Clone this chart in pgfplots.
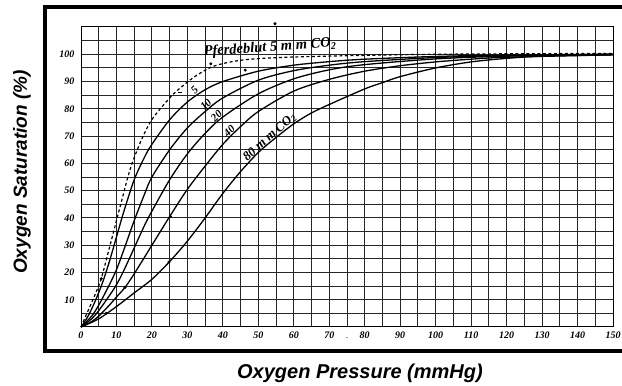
\documentclass[border=0pt]{standalone}
\usepackage{fontspec}
\setmainfont{Liberation Sans}
\newfontfamily\tickf{Liberation Serif}
\usepackage{pgfplots}
\pgfplotsset{compat=1.18}
\begin{document}
\begin{tikzpicture}[x=1pt,y=1pt]
\begin{axis}[
  at={(81pt,59pt)}, anchor=south west,
  scale only axis, width=532pt, height=300pt,
  xmin=0, xmax=150, ymin=0, ymax=110,
  xtick={0,10,...,150}, ytick={10,20,...,100},
  minor xtick={5,15,...,145}, minor ytick={5,15,...,105},
  grid=both,
  major grid style={black!85, line width=0.9pt},
  minor grid style={black!85, line width=0.9pt},
  axis line style={black, line width=1pt},
  major tick length=0pt, minor tick length=0pt,
  /pgf/number format/assume math mode=true,
  ticklabel style={font=\tickf\bfseries\itshape\fontsize{10}{11}\selectfont},
  yticklabel style={xshift=-3pt},
  xticklabel style={yshift=-1.5pt},
  clip=false,
]
% Pferdeblut 5 mm CO2 (dashed)
\addplot[black, line width=1.2pt, dash pattern=on 3pt off 2.5pt, smooth, tension=0.5] coordinates {
(0,0) (2,6) (4,12) (5.7,17.7) (8,29) (10,39) (12,49) (13,54) (14.4,60) (17,68.5)
(19.7,75.5) (23,81) (26.2,85.6) (30,89.8) (33,92.6) (36.6,95.2) (40,96.6) (45,97.8)
(50,98.4) (60,99) (80,99.6) (100,100) (125,100.2) (150,100.3)};
% 5 mm
\addplot[black, line width=1.3pt, smooth, tension=0.5] coordinates {
(0,0) (2,4) (4,9.5) (6,16) (8,24) (10,33) (12,42) (15,54) (18,62.5) (20,67)
(25,76) (30,82.5) (35,87) (40,90) (50,93.8) (60,96) (70,97.3) (80,98.2) (100,99.2)
(120,99.7) (150,100)};
% 10 mm
\addplot[black, line width=1.3pt, smooth, tension=0.5] coordinates {
(0,0) (3,4) (5,8) (8,15.5) (10,21) (12,28) (15,39) (18,49) (20,55) (25,65) (30,73)
(35,79) (40,84) (50,90.5) (60,94) (70,96) (80,97.3) (100,98.8) (120,99.5) (150,100)};
% 20 mm
\addplot[black, line width=1.3pt, smooth, tension=0.5] coordinates {
(0,0) (3,3) (5,6) (8,11.5) (10,15.5) (12,20.5) (15,29) (18,37.5) (20,42.5) (25,54)
(30,63.5) (35,71) (40,77) (50,85.5) (60,91) (70,94.3) (80,96.2) (100,98.3)
(120,99.3) (150,99.9)};
% 40 mm
\addplot[black, line width=1.3pt, smooth, tension=0.5] coordinates {
(0,0) (3,2) (5,4) (8,8) (10,11) (12.4,14.5) (15,19.5) (20,30) (25,40.5) (30,50.5)
(35,59) (40,67) (45,73.5) (50,79) (60,86.5) (70,90.8) (80,93.8) (90,95.8) (100,97.2)
(110,98.2) (120,98.9) (150,99.8)};
% 80 mm
\addplot[black, line width=1.3pt, smooth, tension=0.5] coordinates {
(0,0) (5,3) (10,7.5) (15,12.5) (20,17.5) (25,24) (30,31.5) (35,40) (40,49) (45,57)
(50,64) (55,69.5) (60,74.5) (65,78.5) (70.7,82) (80,87.3) (85,89.6) (90,91.8) (100,95)
(110,97.2) (120,98.5) (130,99.3) (150,99.8)};
% measured points
\addplot[only marks, mark=*, mark size=1.3pt, black] coordinates {
(5.7,17.7) (36.6,96.5) (46.3,94.2) (25.2,40.5) (12.4,14.5) (24.8,23.8) (7.1,5) (54.7,111.2)};
\addplot[only marks, mark=-, mark size=2pt, black, line width=1pt] coordinates {(28,86) (14.2,60)};
% curve labels
\node[inner sep=0pt, font=\tickf\bfseries\itshape\fontsize{11}{11}\selectfont, rotate=45] at (axis cs:32.0,87.0) {5};
\node[inner sep=0pt, font=\tickf\bfseries\itshape\fontsize{11}{11}\selectfont, rotate=45] at (axis cs:35.2,81.6) {10};
\node[inner sep=0pt, font=\tickf\bfseries\itshape\fontsize{11}{11}\selectfont, rotate=45] at (axis cs:38.2,77.4) {20};
\node[inner sep=0pt, font=\tickf\bfseries\itshape\fontsize{11}{11}\selectfont, rotate=45] at (axis cs:41.8,71.8) {40};
\node[inner sep=0pt, font=\tickf\bfseries\itshape\fontsize{13}{13}\selectfont, rotate=42] at (axis cs:53.2,69.6) {80 m m CO\textsubscript{2}};
\node[inner sep=0pt, font=\tickf\bfseries\itshape\fontsize{14.5}{14.5}\selectfont, rotate=4] at (axis cs:53.3,102.4) {Pferdeblut 5 m m CO\textsubscript{2}};
\node[font=\tickf\bfseries\fontsize{10}{10}\selectfont] at (axis cs:75,-4) {$\cdot$};
\end{axis}
\draw[line width=3.5pt] (45,379) rectangle (640,35);
\node[font=\bfseries\itshape\fontsize{20}{24}\selectfont] at (360,13) {Oxygen Pressure (mmHg)};
\node[font=\bfseries\itshape\fontsize{19}{24}\selectfont, rotate=90] at (22,214) {Oxygen Saturation (\%)};
\pgfresetboundingbox
\useasboundingbox (0,0) rectangle (622,386);
\end{tikzpicture}
\end{document}
